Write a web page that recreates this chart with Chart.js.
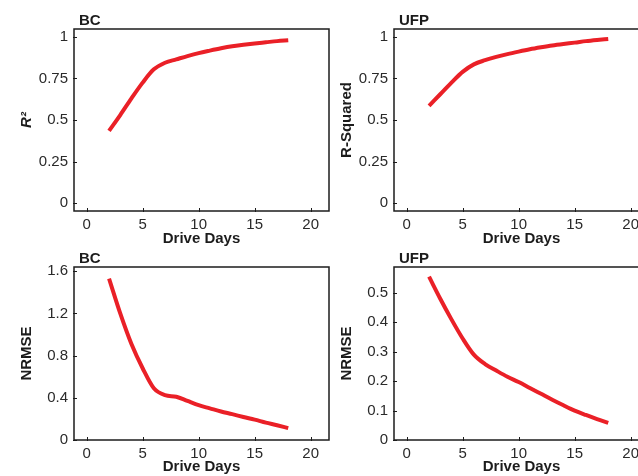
<!DOCTYPE html>
<html>
<head>
<meta charset="utf-8">
<script src="https://cdn.jsdelivr.net/npm/chart.js@4/dist/chart.umd.min.js"></script>
<style>
  html, body { margin: 0; padding: 0; background: #fff; }
  body { width: 638px; height: 476px; overflow: hidden; position: relative; }
  canvas { position: absolute; }
</style>
</head>
<body>
<canvas id="bcR2" width="340" height="248" style="left:0;top:0"></canvas>
<canvas id="ufpR2" width="340" height="248" style="left:320px;top:0"></canvas>
<canvas id="bcNrmse" width="340" height="228" style="left:0;top:248px"></canvas>
<canvas id="ufpNrmse" width="340" height="228" style="left:320px;top:248px"></canvas>
<script>
const driveDays = [2, 3, 4, 5, 6, 7, 8, 9, 10, 11, 12, 13, 14, 15, 16, 17, 18];

const bcR2 = [0.435, 0.53, 0.63, 0.725, 0.805, 0.845, 0.865, 0.885, 0.903, 0.918, 0.932, 0.944, 0.953, 0.961, 0.968, 0.975, 0.98];
const ufpR2 = [0.585, 0.655, 0.725, 0.79, 0.835, 0.86, 0.88, 0.897, 0.912, 0.926, 0.938, 0.949, 0.958, 0.966, 0.975, 0.982, 0.988];
const bcNrmse = [1.53, 1.2, 0.91, 0.68, 0.49, 0.425, 0.41, 0.37, 0.33, 0.3, 0.27, 0.245, 0.218, 0.193, 0.165, 0.14, 0.113];
const ufpNrmse = [0.555, 0.48, 0.41, 0.345, 0.29, 0.258, 0.236, 0.215, 0.197, 0.177, 0.157, 0.137, 0.118, 0.1, 0.085, 0.071, 0.058];

const dayTicks = [0, 5, 10, 15, 20];
const r2Ticks = [0, 0.25, 0.5, 0.75, 1];
const bcNrmseTicks = [0, 0.4, 0.8, 1.2, 1.6];
const ufpNrmseTicks = [0, 0.1, 0.2, 0.3, 0.4, 0.5];

const FONT = "'Liberation Sans', Arial, Helvetica, sans-serif";
const INK = "#1c1c1c";

// frame around the plot area, short inward ticks and the panel name
const framePlugin = {
  id: "frame",
  afterDraw(chart, args, opts) {
    const { ctx, chartArea: a, scales } = chart;
    ctx.save();
    ctx.strokeStyle = INK;
    ctx.lineWidth = 1.5;
    ctx.strokeRect(a.left, a.top, a.right - a.left, a.bottom - a.top);
    ctx.lineWidth = 1;
    ctx.beginPath();
    scales.x.ticks.forEach((t) => {
      const px = Math.round(scales.x.getPixelForValue(t.value)) + 0.5;
      ctx.moveTo(px, a.bottom + 1);
      ctx.lineTo(px, a.bottom - 3);
    });
    scales.y.ticks.forEach((t) => {
      const py = Math.round(scales.y.getPixelForValue(t.value)) + 0.5;
      ctx.moveTo(a.left - 1, py);
      ctx.lineTo(a.left + 3, py);
    });
    ctx.stroke();
    ctx.fillStyle = INK;
    ctx.font = "bold 15px " + FONT;
    ctx.textBaseline = "middle";
    ctx.textAlign = "left";
    ctx.fillText(opts.name, a.left + 5, a.top - 8.5);
    ctx.restore();
  },
};

function makePanel(id, name, values, yTitle, yTicks, yMin, yMax, padTop, xHeight, italicTitle) {
  new Chart(document.getElementById(id), {
    type: "line",
    data: {
      datasets: [
        {
          data: driveDays.map((d, i) => ({ x: d, y: values[i] })),
          borderColor: "#ea2027",
          borderWidth: 4,
          pointRadius: 0,
          fill: false,
          cubicInterpolationMode: "monotone",
        },
      ],
    },
    options: {
      responsive: false,
      animation: false,
      layout: { padding: { top: padTop, right: 11, left: 0, bottom: 0 } },
      plugins: {
        legend: { display: false },
        tooltip: { enabled: false },
        frame: { name: name },
      },
      scales: {
        x: {
          type: "linear",
          min: -1.13,
          max: 21.64,
          afterBuildTicks: (s) => { s.ticks = dayTicks.map((v) => ({ value: v })); },
          afterFit: (s) => { s.height = xHeight; },
          grid: { display: false, drawTicks: false },
          border: { display: false },
          ticks: { padding: 5, color: "#2a2a2a", font: { family: FONT, size: 15 }, maxRotation: 0 },
          title: {
            display: true,
            text: "Drive Days",
            color: INK,
            font: { family: FONT, size: 15, weight: "bold" },
            padding: { top: 0, bottom: 0 },
          },
        },
        y: {
          type: "linear",
          min: yMin,
          max: yMax,
          afterBuildTicks: (s) => { s.ticks = yTicks.map((v) => ({ value: v })); },
          afterFit: (s) => { s.width = 74; },
          grid: { display: false, drawTicks: false },
          border: { display: false },
          ticks: {
            padding: 6,
            color: "#2a2a2a",
            font: { family: FONT, size: 15 },
            callback: (v) => String(v),
          },
          title: {
            display: true,
            text: yTitle,
            color: INK,
            font: { family: FONT, size: 15, weight: "bold", style: italicTitle ? "italic" : "normal" },
            padding: { top: 18, bottom: 0 },
          },
        },
      },
    },
    plugins: [framePlugin],
  });
}

makePanel("bcR2", "BC", bcR2, "R²", r2Ticks, -0.048, 1.048, 29, 37, true);
makePanel("ufpR2", "UFP", ufpR2, "R-Squared", r2Ticks, -0.048, 1.048, 29, 37, false);
makePanel("bcNrmse", "BC", bcNrmse, "NRMSE", bcNrmseTicks, 0, 1.64, 19, 36, false);
makePanel("ufpNrmse", "UFP", ufpNrmse, "NRMSE", ufpNrmseTicks, 0, 0.588, 19, 36, false);
</script>
</body>
</html>
